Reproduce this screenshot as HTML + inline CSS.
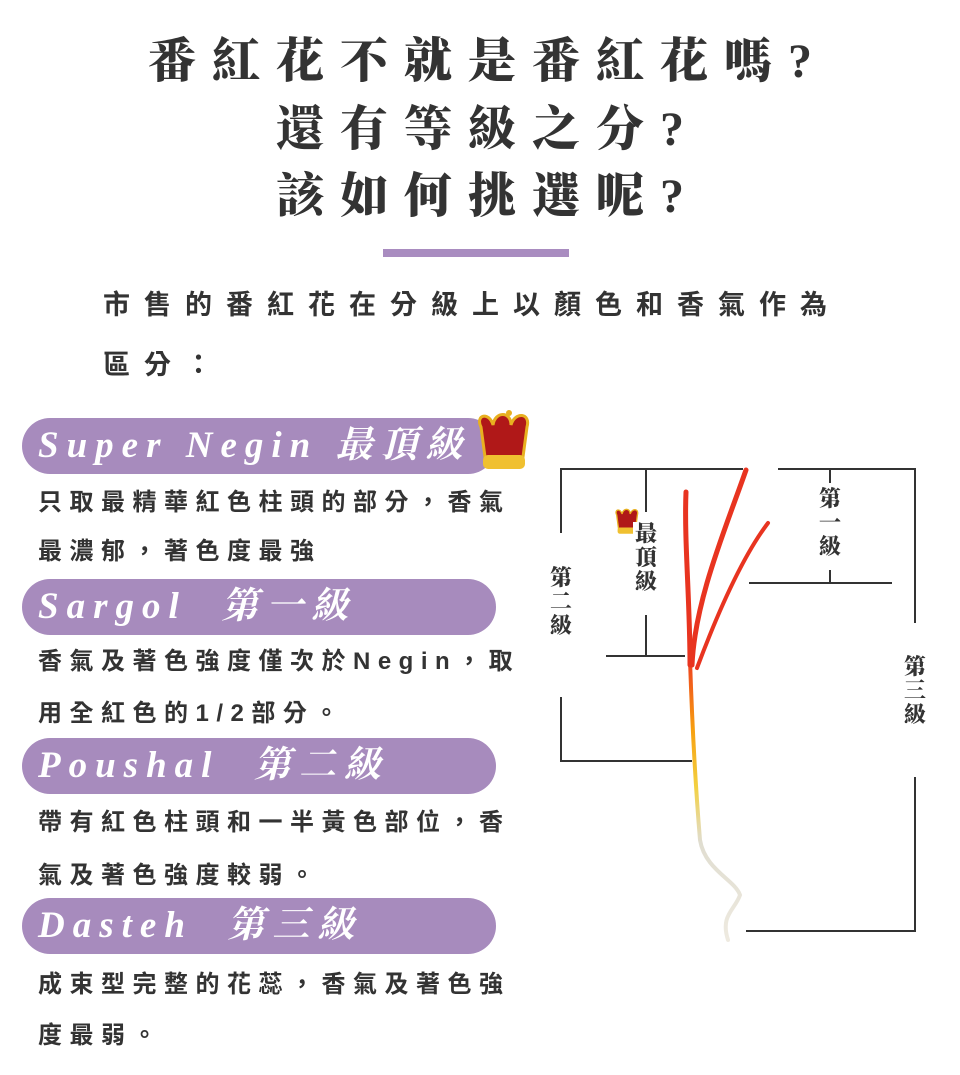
<!DOCTYPE html>
<html><head><meta charset="utf-8"><style>
body{margin:0;width:960px;height:1075px;background:#fff;position:relative;overflow:hidden;font-family:"Liberation Sans","Noto Sans CJK TC",sans-serif;color:#333}
.t{position:absolute;left:0;width:976px;text-align:center;font-family:"Liberation Serif","Noto Serif CJK SC",serif;font-weight:900;font-size:48px;letter-spacing:16px;color:#333;line-height:60px}
.p{position:absolute;left:103px;font-size:27px;font-weight:bold;letter-spacing:14px;color:#333;line-height:36px;white-space:nowrap}
.pill{position:absolute;left:22px;width:474px;height:56px;border-radius:28px;background:#a78bbd;color:#fff;font-family:"Liberation Serif","Noto Serif CJK SC",serif;font-style:italic;font-weight:bold;font-size:37px;line-height:56px;padding-left:16px;box-sizing:border-box;letter-spacing:8px;white-space:nowrap}
.b{position:absolute;left:38px;font-size:24px;font-weight:bold;letter-spacing:7.5px;color:#333;line-height:32px;white-space:nowrap}
.v{position:absolute;width:26px;font-family:"Liberation Serif","Noto Serif CJK SC",serif;font-weight:900;font-size:22px;line-height:24px;text-align:center;color:#333;background:#fff}
</style></head><body>
<div class="t" style="top:32px">番紅花不就是番紅花嗎?</div>
<div class="t" style="top:100px">還有等級之分?</div>
<div class="t" style="top:167px">該如何挑選呢?</div>
<div style="position:absolute;left:383px;top:249px;width:186px;height:8px;background:#a98cc0"></div>
<div class="p" style="top:287px">市售的番紅花在分級上以顏色和香氣作為</div>
<div class="p" style="top:347px">區分：</div>

<div class="pill" style="top:418px">Super Negin 最頂級</div>
<div class="b" style="top:487px">只取最精華紅色柱頭的部分，香氣</div>
<div class="b" style="top:536px">最濃郁，著色度最強</div>
<div class="pill" style="top:579px">Sargol &nbsp;第一級</div>
<div class="b" style="top:646px">香氣及著色強度僅次於Negin，取</div>
<div class="b" style="top:698px">用全紅色的1/2部分。</div>
<div class="pill" style="top:738px">Poushal &nbsp;第二級</div>
<div class="b" style="top:807px">帶有紅色柱頭和一半黃色部位，香</div>
<div class="b" style="top:860px">氣及著色強度較弱。</div>
<div class="pill" style="top:898px">Dasteh &nbsp;第三級</div>
<div class="b" style="top:969px">成束型完整的花蕊，香氣及著色強</div>
<div class="b" style="top:1020px">度最弱。</div>

<svg width="960" height="1075" style="position:absolute;left:0;top:0">
<defs>
<linearGradient id="st" x1="0" y1="0" x2="0" y2="1">
<stop offset="0" stop-color="#ee4020"/><stop offset="0.25" stop-color="#f7a010"/><stop offset="0.45" stop-color="#f3d040"/><stop offset="0.65" stop-color="#e0ddd0"/><stop offset="1" stop-color="#eeeae0"/></linearGradient>
</defs>
<g stroke="#333" stroke-width="2" fill="none">
<path d="M561 533V469H743M778 469H915V623M915 777V931H746M561 697V761H692"/>
<path d="M646 469V512M646 615V656M606 656H685"/>
<path d="M830 469V483M830 570V583M749 583H892"/>
</g>
<g fill="none" stroke-linecap="round">
<path d="M690 660 C692 720 695 780 700 840 C705 870 735 880 740 895 C735 910 720 915 728 940" stroke="url(#st)" stroke-width="4"/>
<path d="M690 665 C690 600 684 540 686 492" stroke="#e83420" stroke-width="5"/>
<path d="M692 665 C695 600 725 530 746 470" stroke="#e83420" stroke-width="5"/>
<path d="M697 668 C715 620 740 560 768 523" stroke="#e83420" stroke-width="4"/>
</g>
<g transform="translate(475,405)">
<path d="M6 22 C0 10 14 6 18 20 C20 6 36 6 36 20 C40 6 56 8 52 22 L48 52 H10 Z" fill="#b01818" stroke="#e8b020" stroke-width="3"/>
<rect x="8" y="50" width="42" height="14" rx="5" fill="#f0c030"/>
<circle cx="34" cy="8" r="3" fill="#e8b020"/>
</g>
<g transform="translate(614,505) scale(0.45)">
<path d="M6 22 C0 10 14 6 18 20 C20 6 36 6 36 20 C40 6 56 8 52 22 L48 52 H10 Z" fill="#b01818" stroke="#e8b020" stroke-width="3"/>
<rect x="8" y="50" width="42" height="14" rx="5" fill="#f0c030"/>
</g>
</svg>
<div class="v" style="left:548px;top:566px">第<br>二<br>級</div>
<div class="v" style="left:633px;top:522px">最<br>頂<br>級</div>
<div class="v" style="left:817px;top:487px">第<br>一<br>級</div>
<div class="v" style="left:902px;top:655px">第<br>三<br>級</div>
</body></html>
